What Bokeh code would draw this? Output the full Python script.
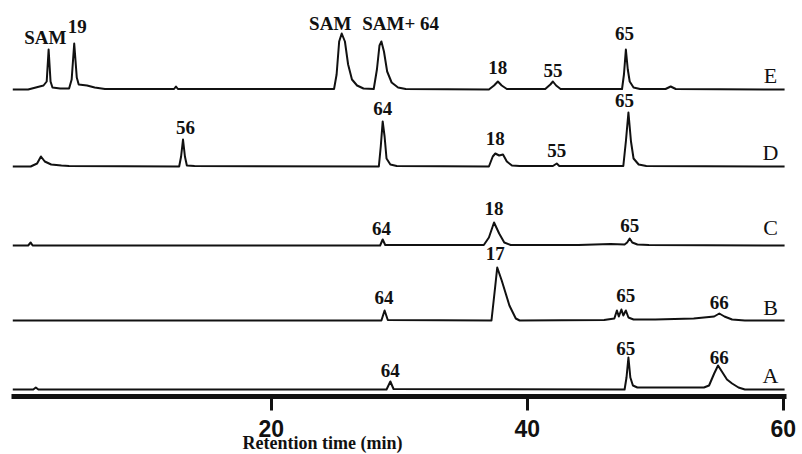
from bokeh.plotting import figure
from bokeh.models import Range1d, FixedTicker, Title, ColumnDataSource
from bokeh.core.properties import value
from bokeh.embed import file_html
from bokeh.resources import INLINE

# ---- data (retention time in min, detector signal in arbitrary units) ----
time_E = [-0.2, 1.0, 1.6, 2.2, 2.45, 2.6, 2.75, 2.9, 3.5, 4.2, 4.4, 4.6, 4.8, 4.95, 5.6, 6.2, 7.0,
          12.4, 12.55, 12.7, 24.9, 25.1, 25.3, 25.5, 25.75, 26.0, 26.3, 26.7, 27.2,
          28.0, 28.25, 28.45, 28.6, 28.8, 29.05, 29.4, 29.9, 30.5,
          37.0, 37.4, 37.7, 38.0, 38.4, 41.4, 41.8, 42.0, 42.25, 42.6,
          47.4, 47.55, 47.7, 47.85, 48.0, 48.3, 48.8, 50.8, 51.2, 51.6, 60.1]
signal_E = [0, 0, 2, 4, 8, 40, 8, 2, 1, 1, 10, 46, 12, 5, 4, 2, 0.5,
            0.5, 3, 0.5, 0.5, 15, 48, 56, 48, 25, 10, 4, 1,
            0.5, 20, 44, 48, 38, 18, 7, 2, 0.5,
            0, 4, 8, 4, 0.5, 0.5, 5, 8, 4, 0.5,
            0.5, 15, 40, 20, 8, 2, 0.5, 0.5, 3, 0.5, 0]

time_D = [-0.2, 1.2, 1.7, 2.0, 2.3, 2.8, 3.6, 4.2, 12.8, 12.95, 13.1, 13.25, 13.4, 14.0,
          28.4, 28.55, 28.7, 28.85, 29.0, 29.3, 29.8,
          37.0, 37.3, 37.5, 37.8, 38.1, 38.4, 38.8, 39.4, 42.0, 42.3, 42.5,
          47.5, 47.7, 47.9, 48.1, 48.3, 48.7, 49.3, 60.1]
signal_D = [0, 0, 3, 10, 5, 2, 1, 0.5, 0, 10, 27, 10, 1, 0.5,
            0, 20, 45, 30, 8, 2, 0.5,
            0, 10, 13, 11, 12, 5, 1, 0.5, 0.5, 3, 0.5,
            0.5, 25, 54, 25, 8, 2, 0.5, 0]

time_C = [-0.2, 1.0, 1.2, 1.35, 28.5, 28.7, 28.9, 36.6, 37.0, 37.4, 37.8, 38.2, 38.7,
          44.0, 46.5, 47.6, 47.8, 48.0, 48.2, 48.6, 49.5, 60.1]
signal_C = [0, 0, 3, 0, 0, 6, 0.5, 0.5, 8, 23, 12, 3, 0.5,
            0.5, 1.5, 1, 3, 7, 3, 1, 0.5, 0]

time_B = [-0.2, 28.6, 28.85, 29.1, 37.2, 37.5, 37.65, 38.0, 38.6, 39.1, 39.4,
          46.0, 46.8, 47.0, 47.15, 47.35, 47.5, 47.7, 47.9, 48.3, 50.0, 53.0,
          54.6, 55.0, 55.4, 56.0, 57.0, 60.1]
signal_B = [0, 0, 10, 0.5, 0, 35, 53, 40, 15, 2, 0,
            0.5, 2, 10, 4, 11, 5, 10, 3, 1, 1, 2,
            4, 7, 4, 1, 0, 0]

time_A = [-0.2, 1.4, 1.6, 1.8, 29.0, 29.3, 29.55, 47.6, 47.75, 47.9, 48.05, 48.25, 48.6,
          53.8, 54.2, 54.6, 54.9, 55.2, 55.6, 56.0, 56.5, 57.0, 60.1]
signal_A = [0, 0, 2, 0, 0, 8, 0.5, 0, 12, 32, 12, 4, 2,
            2, 4, 16, 24, 18, 10, 6, 2, 0, 0]

trace_names = ["E", "D", "C", "B", "A"]
trace_offsets = [307, 230, 151, 76, 7]
trace_times = [time_E, time_D, time_C, time_B, time_A]
trace_signals = [signal_E, signal_D, signal_C, signal_B, signal_A]

# peak labels: trace, retention time, text, height of label above baseline
peak_trace = ["E", "E", "E", "E", "E", "E", "E",
              "D", "D", "D", "D", "D",
              "C", "C", "C",
              "B", "B", "B", "B",
              "A", "A", "A"]
peak_time = [2.34, 4.84, 24.6, 30.1, 37.7, 42.0, 47.6,
             13.3, 28.7, 37.5, 42.3, 47.6,
             28.6, 37.4, 48.0,
             37.5, 28.8, 47.7, 55.0,
             29.3, 47.7, 55.0]
peak_text = ["SAM", "19", "SAM", "SAM+ 64", "18", "55", "65",
             "56", "64", "18", "55", "65",
             "64", "18", "65",
             "17", "64", "65", "66",
             "64", "65", "66"]
peak_label_height = [52, 63, 66, 66, 22, 19, 56,
                     39, 58, 28, 16, 66,
                     17, 37, 20,
                     67, 23, 25, 18,
                     19, 41, 32]
trace_label_height = [14, 14, 18, 13, 14]
trace_label_time = 59.0

x_ticks = [20, 40, 60]
x_title = "Retention time (min)"

# ---- figure ----
p = figure(frame_width=775, frame_height=388, output_backend="svg", toolbar_location=None,
           x_range=Range1d(-0.3, 60.25), y_range=Range1d(0, 388),
           y_axis_location=None, min_border_left=11, min_border_right=14,
           min_border_top=8, min_border_bottom=58)
p.grid.visible = False
p.outline_line_color = None
p.background_fill_color = "white"
p.border_fill_color = "white"

for name, off, ts, sig in zip(trace_names, trace_offsets, trace_times, trace_signals):
    p.line([t for t in ts], [s + off for s in sig], line_color="#111111", line_width=2,
           line_join="round")

offset_of = dict(zip(trace_names, trace_offsets))
src = ColumnDataSource(dict(
    x=peak_time,
    y=[offset_of[tr] + h for tr, h in zip(peak_trace, peak_label_height)],
    text=peak_text))
p.text(x="x", y="y", text="text", source=src, text_font=value("Liberation Serif"),
       text_font_style="bold", text_font_size="19px", text_align="center",
       text_baseline="middle", text_color="#111111")

src2 = ColumnDataSource(dict(
    x=[trace_label_time] * len(trace_names),
    y=[o + h for o, h in zip(trace_offsets, trace_label_height)],
    text=trace_names))
p.text(x="x", y="y", text="text", source=src2, text_font=value("Liberation Serif"),
       text_font_size="22px", text_align="center", text_baseline="middle",
       text_color="#111111")

ax = p.xaxis[0]
ax.ticker = FixedTicker(ticks=x_ticks)
ax.axis_line_width = 5
ax.axis_line_color = "#111111"
ax.major_tick_line_width = 3
ax.major_tick_line_color = "#111111"
ax.major_tick_out = 14
ax.major_tick_in = 0
ax.minor_tick_line_color = None
ax.major_label_text_font = "Liberation Sans"
ax.major_label_text_font_style = "bold"
ax.major_label_text_font_size = "23px"
ax.major_label_text_color = "#111111"
ax.major_label_standoff = 9

p.add_layout(Title(text=x_title, align="left", offset=231, standoff=-17,
                   text_font="Liberation Serif", text_font_style="bold",
                   text_font_size="18px", text_color="#111111"), "below")

open("out.html", "w").write(file_html(p, INLINE))
